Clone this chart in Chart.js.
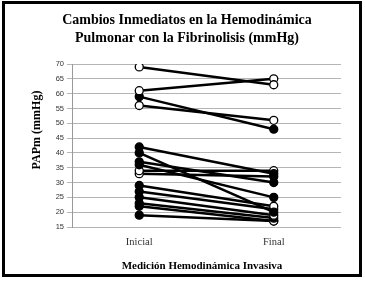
<!DOCTYPE html>
<html lang="es">
<head>
  <meta charset="UTF-8">
  <title>Cambios Inmediatos en la Hemodinámica Pulmonar</title>
  <script src="https://cdn.jsdelivr.net/npm/chart.js"></script>
  <style>
    * { box-sizing: border-box; margin: 0; padding: 0; }
    body { background: #fff; width: 365px; height: 283px; overflow: hidden; }
    .frame { position: absolute; left: 2px; top: 1px; width: 360px; height: 276px; border: 3px solid #000; }
    canvas { display: block; }
  </style>
</head>
<body>
  <div class="frame"><canvas id="chart" width="354" height="270"></canvas></div>
  <script>
    // categories and values per patient (PAPm, mmHg)
    const categorias = ['Inicial', 'Final'];
    const inicial = [69, 61, 59, 56, 42, 40, 37, 36, 34, 33, 29, 27, 25, 23, 22, 19];
    const final   = [63, 65, 48, 51, 33, 20, 30, 25, 34, 32, 22, 21, 19, 18, 17, 17];
    // 1 = open marker, 0 = filled marker
    const abiertoInicial = [1, 1, 0, 1, 0, 0, 0, 0, 1, 1, 0, 0, 0, 0, 0, 0];
    const abiertoFinal   = [1, 1, 0, 1, 0, 0, 0, 0, 1, 0, 1, 0, 1, 0, 1, 0];
    const yTicks = { min: 15, max: 70, step: 5 };

    const serif = '"Liberation Serif", "DejaVu Serif", serif';

    const datasets = inicial.map((v, i) => ({
      data: [v, final[i]],
      borderColor: '#000',
      borderWidth: 2.5,
      pointRadius: 4,
      pointBorderWidth: 1.3,
      pointBorderColor: '#000',
      pointBackgroundColor: [abiertoInicial[i] ? '#fff' : '#000', abiertoFinal[i] ? '#fff' : '#000'],
      fill: false,
      tension: 0
    }));

    // titles drawn as text at fixed spots
    const textos = {
      id: 'textos',
      afterDraw(chart) {
        const ctx = chart.ctx;
        ctx.save();
        ctx.fillStyle = '#000';
        ctx.textAlign = 'center';
        ctx.textBaseline = 'middle';
        ctx.font = 'bold 14px ' + serif;
        ctx.fillText('Cambios Inmediatos en la Hemodinámica', 182, 16);
        ctx.fillText('Pulmonar con la Fibrinolisis (mmHg)', 182, 34);
        ctx.font = 'bold 11px ' + serif;
        ctx.fillText('Medición Hemodinámica Invasiva', 197, 262);
        ctx.translate(32, 126);
        ctx.rotate(-Math.PI / 2);
        ctx.font = 'bold 12px ' + serif;
        ctx.fillText('PAPm (mmHg)', 0, 0);
        ctx.restore();
      }
    };

    new Chart(document.getElementById('chart').getContext('2d'), {
      type: 'line',
      data: { labels: categorias, datasets },
      plugins: [textos],
      options: {
        responsive: false,
        animation: false,
        layout: { padding: { top: 60, right: 18, left: 0, bottom: 0 } },
        plugins: { legend: { display: false }, tooltip: { enabled: false } },
        scales: {
          x: {
            offset: true,
            grid: { display: false, drawTicks: false },
            border: { display: false },
            ticks: { color: '#333', padding: 9, font: { family: serif, size: 10.5 } },
            afterFit: s => { s.height = 47; }
          },
          y: {
            min: yTicks.min,
            max: yTicks.max,
            grid: { color: '#b4b4b4', lineWidth: 1, tickLength: 5 },
            border: { color: '#999' },
            ticks: { stepSize: yTicks.step, color: '#333', padding: 3, font: { family: 'Arial, "Liberation Sans", sans-serif', size: 7.5 } },
            afterFit: s => { s.width = 67; }
          }
        }
      }
    });
  </script>
</body>
</html>
